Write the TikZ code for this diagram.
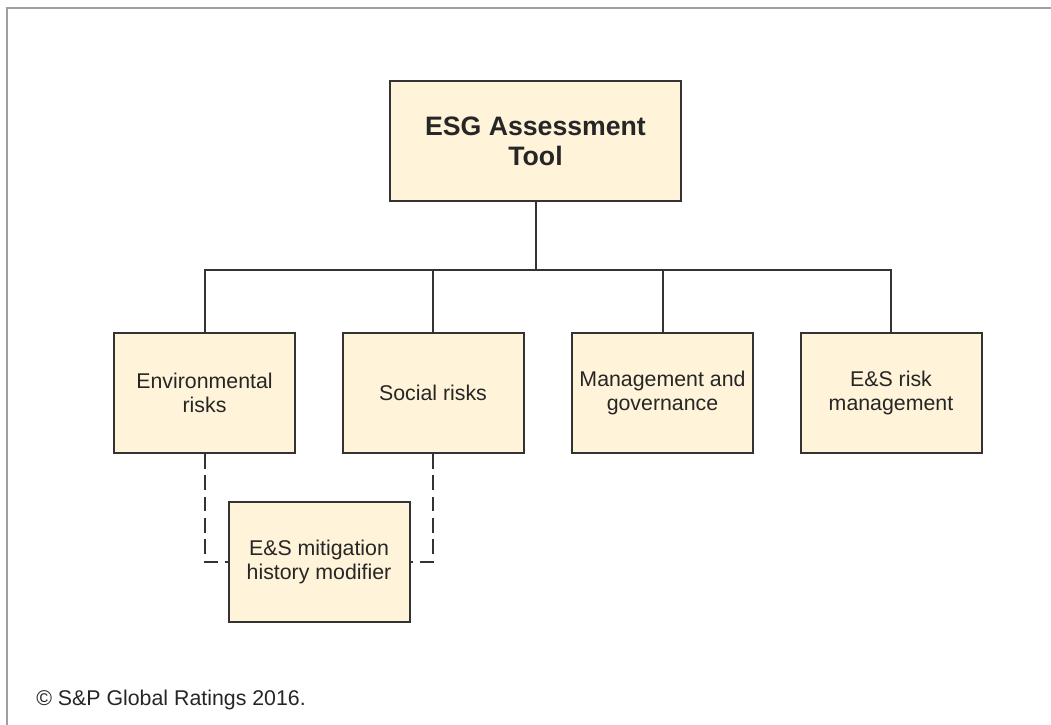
\documentclass[tikz,border=0pt]{standalone}
\usepackage{fontspec}
\setmainfont{Liberation Sans}
\usepackage{tikz}
\usetikzlibrary{positioning}

\definecolor{boxfill}{RGB}{255,243,217}
\definecolor{boxline}{RGB}{51,51,51}
\definecolor{framegray}{RGB}{160,160,160}

\tikzset{
  riskbox/.style={draw=boxline, fill=boxfill, line width=1.5pt, minimum width=135.75pt, minimum height=90pt, inner sep=0.75pt, align=center, font=\fontsize{16}{18}\selectfont, text=black!85},
  treeline/.style={draw=boxline, line width=1.5pt},
  modline/.style={draw=boxline, line width=1.5pt, dash pattern=on 11pt off 5pt}
}

\begin{document}
\begin{tikzpicture}[x=0.75pt,y=0.75pt,yscale=-1,xscale=1]
                  \useasboundingbox (0,0) rectangle (1051,725);

                  %Frame
                  \draw [color=framegray, line width=2.2pt]  (7,725) -- (7,8) -- (1051,8) ;

                  %Shape: Rectangle [id:top]
                  \node [riskbox, minimum width=218.25pt, font=\bfseries\fontsize{20}{22.5}\selectfont] (esg) at (535.5,141) {ESG Assessment\\Tool};
                  %Shape: Rectangle [id:row]
                  \node [riskbox] (env) at (204.5,393) {Environmental\\risks};
                  \node [riskbox] (soc) at (433,393) {Social risks};
                  \node [riskbox] (mgt) at (662.5,393) {Management and\\governance};
                  \node [riskbox] (esr) at (891,393) {E\&S risk\\management};
                  %Shape: Rectangle [id:modifier]
                  \node [riskbox] (mod) at (319,562) {E\&S mitigation\\history modifier};

                  %Straight Lines [id:tree]
                  \coordinate (bus) at (535.5,270) ;
                  \draw [treeline]  (esg.south) -- (bus) ;
                  \draw [treeline]  (env.north) |- (bus) -| (esr.north) ;
                  \draw [treeline]  (soc.north) -- (soc.north |- bus) ;
                  \draw [treeline]  (mgt.north) -- (mgt.north |- bus) ;

                  %Dashed Lines [id:modifier links]
                  \draw [modline]  (env.south) |- (mod.west) ;
                  \draw [modline]  (soc.south) |- (mod.east) ;

                  % Text Node
                  \node [anchor=base west, inner sep=0.75pt, font=\fontsize{16}{18}\selectfont, text=black!85] (credit) at (35,705) {© S\&P Global Ratings 2016.};

              \end{tikzpicture}
\end{document}
